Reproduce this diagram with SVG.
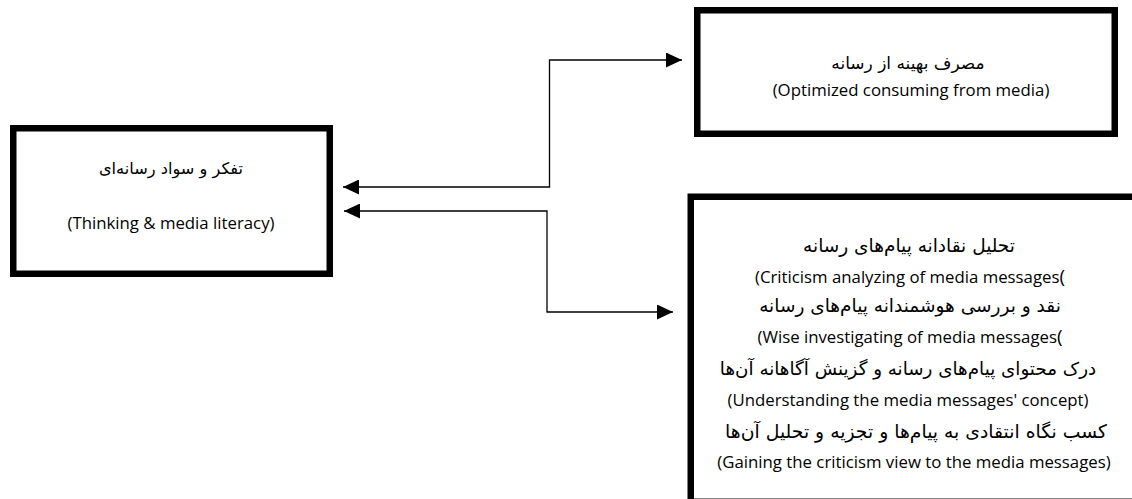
<svg xmlns="http://www.w3.org/2000/svg" width="1132" height="499" viewBox="0 0 1132 499">
<style>
.box{fill:#fff;stroke:#000;stroke-width:6.5}
.fa{font-family:"DejaVu Sans",sans-serif;fill:#000;text-anchor:middle;direction:rtl;unicode-bidi:embed}
.en{font-family:"Open Sans","Noto Sans",sans-serif;fill:#000;text-anchor:middle;font-size:16.8px}
.con{fill:none;stroke:#000;stroke-width:1.3}
</style>
<defs>
<marker id="ah" viewBox="0 0 16 15" refX="16" refY="7.5" markerWidth="16" markerHeight="15" markerUnits="userSpaceOnUse" orient="auto-start-reverse">
<path d="M0 0 L16 7.5 L0 15 Z" fill="#000"/>
</marker>
</defs>
<g id="connectors">
<path class="con" d="M343 187 H549.5 V60 H682" marker-start="url(#ah)" marker-end="url(#ah)"/>
<path class="con" d="M344 211 H547 V312 H673" marker-start="url(#ah)" marker-end="url(#ah)"/>
</g>
<g id="node-thinking">
<rect class="box" x="13.25" y="128.25" width="316.5" height="145.5"/>
<text class="fa" x="171" y="174" font-size="16.2">تفکر و سواد رسانه‌ای</text>
<text class="en" x="171" y="229">(Thinking &amp; media literacy)</text>
</g>
<g id="node-optimized">
<rect class="box" x="697.25" y="10.25" width="417.5" height="123.5"/>
<text class="fa" x="908" y="69" font-size="17">مصرف بهینه از رسانه</text>
<text class="en" x="911" y="96">(Optimized consuming from media)</text>
</g>
<g id="node-criticism">
<rect class="box" x="690.75" y="196.75" width="500" height="305" stroke-width="7.5"/>
<text class="fa" x="909" y="252" font-size="18.5">تحلیل نقادانه پیام‌های رسانه</text>
<text class="en" x="910" y="283">(Criticism analyzing of media messages<tspan font-size="19">(</tspan></text>
<text class="fa" x="910" y="312" font-size="18.5">نقد و بررسی هوشمندانه پیام‌های رسانه</text>
<text class="en" x="910" y="343">(Wise investigating of media messages<tspan font-size="19">(</tspan></text>
<text class="fa" x="908" y="375" font-size="18.3">درک محتوای پیام‌های رسانه و گزینش آگاهانه آن‌ها</text>
<text class="en" x="908" y="406">(Understanding the media messages' concept)</text>
<text class="fa" x="916" y="438" font-size="18.8">کسب نگاه انتقادی به پیام‌ها و تجزیه و تحلیل آن‌ها</text>
<text class="en" x="914" y="468">(Gaining the criticism view to the media messages)</text>
</g>
</svg>
